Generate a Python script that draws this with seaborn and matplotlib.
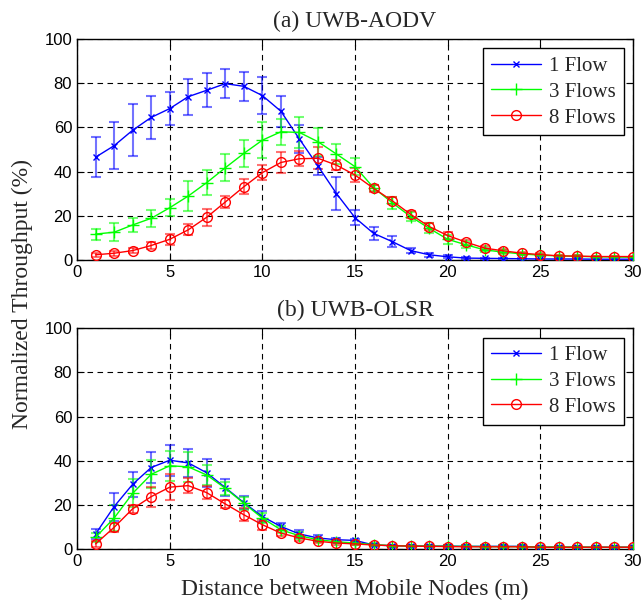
import matplotlib
matplotlib.use("Agg")
import numpy as np
import seaborn as sns
from matplotlib import pyplot as plt

distance = list(range(1, 31))

# (a) UWB-AODV
aodv_1 = [46.5, 51.7, 58.7, 64.5, 68.5, 73.9, 76.8, 79.8, 78.6, 74.4,
          67.3, 54.7, 42.5, 30.0, 19.1, 12.0, 8.3, 4.2, 2.3, 1.4,
          0.8, 0.7, 0.6, 0.5, 0.4, 0.4, 0.4, 0.3, 0.3, 0.3]
aodv_1_err = [9.2, 10.7, 11.8, 9.7, 7.6, 8.1, 7.6, 6.7, 6.5, 8.3,
              7.0, 6.2, 4.0, 7.6, 3.4, 3.0, 2.3, 1.2, 1.0, 0.7,
              0.4, 0.3, 0.3, 0.2, 0.2, 0.2, 0.2, 0.2, 0.2, 0.2]
aodv_3 = [11.7, 12.5, 15.8, 18.8, 23.6, 28.9, 35.0, 41.7, 48.2, 54.2,
          58.0, 57.7, 53.5, 47.9, 42.2, 32.7, 25.9, 19.6, 14.3, 9.3,
          6.8, 4.5, 3.5, 2.7, 2.1, 1.8, 1.6, 1.4, 1.3, 1.2]
aodv_3_err = [2.5, 4.1, 3.3, 4.0, 3.9, 6.6, 5.7, 6.1, 6.0, 8.1,
              5.9, 6.9, 6.4, 4.5, 3.8, 1.4, 2.7, 2.2, 2.3, 1.9,
              1.5, 1.0, 0.8, 0.6, 0.5, 0.4, 0.4, 0.4, 0.3, 0.3]
aodv_8 = [2.3, 3.0, 4.2, 6.5, 9.3, 13.6, 19.3, 26.2, 33.1, 39.5,
          44.1, 45.8, 46.0, 42.9, 38.4, 32.4, 26.8, 20.6, 15.1, 11.0,
          8.0, 5.3, 4.1, 3.0, 2.4, 1.8, 1.7, 1.5, 1.5, 1.5]
aodv_8_err = [1.0, 1.2, 1.3, 1.5, 2.5, 2.5, 3.8, 2.9, 3.4, 3.5,
              4.8, 3.5, 4.9, 2.2, 3.2, 1.5, 1.5, 1.5, 1.5, 1.5,
              1.2, 1.0, 0.8, 0.6, 0.5, 0.4, 0.4, 0.4, 0.4, 0.4]

# (b) UWB-OLSR
olsr_1 = [6.8, 19.2, 29.3, 36.9, 40.2, 39.0, 34.5, 27.8, 21.0, 14.7,
          10.2, 6.8, 5.0, 4.2, 3.9, 1.8, 1.5, 1.4, 1.3, 1.3,
          1.2, 1.2, 1.2, 1.2, 0.8, 0.8, 0.8, 0.8, 0.8, 0.8]
olsr_1_err = [2.3, 6.3, 5.7, 7.2, 7.0, 6.4, 6.4, 4.0, 3.0, 2.3,
              1.8, 1.9, 1.5, 1.0, 0.8, 0.5, 0.5, 0.5, 0.5, 0.5,
              0.5, 0.5, 0.5, 0.5, 0.4, 0.4, 0.4, 0.4, 0.4, 0.4]
olsr_3 = [5.3, 14.0, 25.2, 33.8, 37.7, 37.2, 33.5, 27.5, 20.7, 14.0,
          8.7, 6.0, 4.2, 3.3, 2.7, 2.0, 1.5, 1.4, 1.3, 1.2,
          1.2, 1.1, 1.1, 1.1, 0.9, 0.9, 0.9, 0.8, 0.8, 0.8]
olsr_3_err = [2.0, 5.7, 6.4, 6.4, 6.7, 6.8, 4.5, 3.0, 3.0, 2.3,
              1.5, 1.5, 1.0, 0.8, 0.7, 0.5, 0.5, 0.5, 0.5, 0.5,
              0.5, 0.5, 0.5, 0.5, 0.4, 0.4, 0.4, 0.4, 0.4, 0.4]
olsr_8 = [2.3, 9.8, 18.2, 23.7, 28.0, 28.7, 25.5, 20.4, 15.5, 11.0,
          7.2, 5.0, 3.5, 2.7, 2.3, 1.8, 1.5, 1.3, 1.2, 1.1,
          1.0, 1.0, 1.0, 1.0, 0.8, 0.8, 0.8, 0.8, 0.8, 0.8]
olsr_8_err = [1.5, 2.1, 1.9, 4.5, 6.0, 3.4, 2.9, 1.7, 3.0, 2.3,
              1.5, 1.2, 1.0, 0.7, 0.6, 0.5, 0.5, 0.5, 0.5, 0.5,
              0.5, 0.5, 0.5, 0.5, 0.4, 0.4, 0.4, 0.4, 0.4, 0.4]

series_names = ["1 Flow", "3 Flows", "8 Flows"]
series_colors = ["#0000ff", "#00ff00", "#ff0000"]
series_markers = ["x", "+", "o"]
series_sizes = [5, 8, 7]

panels = [
    ("(a) UWB-AODV", [(aodv_1, aodv_1_err), (aodv_3, aodv_3_err), (aodv_8, aodv_8_err)]),
    ("(b) UWB-OLSR", [(olsr_1, olsr_1_err), (olsr_3, olsr_3_err), (olsr_8, olsr_8_err)]),
]

sns.set_style("white")
plt.rcParams["font.family"] = ["Liberation Serif", "DejaVu Serif"]

fig = plt.figure(figsize=(6.42, 6.1), dpi=100)
axes = [
    fig.add_axes([0.12, 0.574, 0.866, 0.362]),
    fig.add_axes([0.12, 0.100, 0.866, 0.362]),
]

for ax, (title, data) in zip(axes, panels):
    for (vals, err), name, col, mk, ms in zip(data, series_names, series_colors, series_markers, series_sizes):
        ax.errorbar(distance, vals, yerr=err, fmt="none", ecolor=col, elinewidth=1.5,
                    capsize=3.6, capthick=1.5, alpha=0.55, zorder=2)
        sns.lineplot(x=distance, y=vals, ax=ax, color=col, marker=mk, markersize=ms,
                     markerfacecolor="none", markeredgecolor=col, markeredgewidth=1.0,
                     linewidth=1.0, label=name, zorder=3)

    ax.set_xlim(0, 30)
    ax.set_ylim(0, 100)
    ax.set_xticks(np.arange(0, 31, 5))
    ax.set_yticks(np.arange(0, 101, 20))
    ax.grid(True, color="black", linestyle=(0, (5, 4)), linewidth=0.8)
    ax.tick_params(direction="in", length=5, width=0.8, top=True, right=True,
                   bottom=True, left=True, labelsize=12, colors="black")
    for lab in ax.get_xticklabels() + ax.get_yticklabels():
        lab.set_fontfamily("Liberation Sans")
    for sp in ax.spines.values():
        sp.set_color("black")
        sp.set_linewidth(1.0)
    ax.set_xlabel("")
    ax.set_ylabel("")
    ax.set_title(title, fontsize=17, pad=9)
    leg = ax.legend(loc="upper right", fontsize=15, frameon=True, fancybox=False,
                    edgecolor="black", framealpha=1, handlelength=2.4,
                    borderaxespad=0.45, labelspacing=0.3, handletextpad=0.4,
                    borderpad=0.38)
    leg.get_frame().set_linewidth(1.0)

fig.text(0.035, 0.518, "Normalized Throughput (%)", rotation=90, ha="center",
         va="center", fontsize=17)
fig.text(0.553, 0.033, "Distance between Mobile Nodes (m)", ha="center",
         va="center", fontsize=17)

fig.savefig("out.png", dpi=100)
